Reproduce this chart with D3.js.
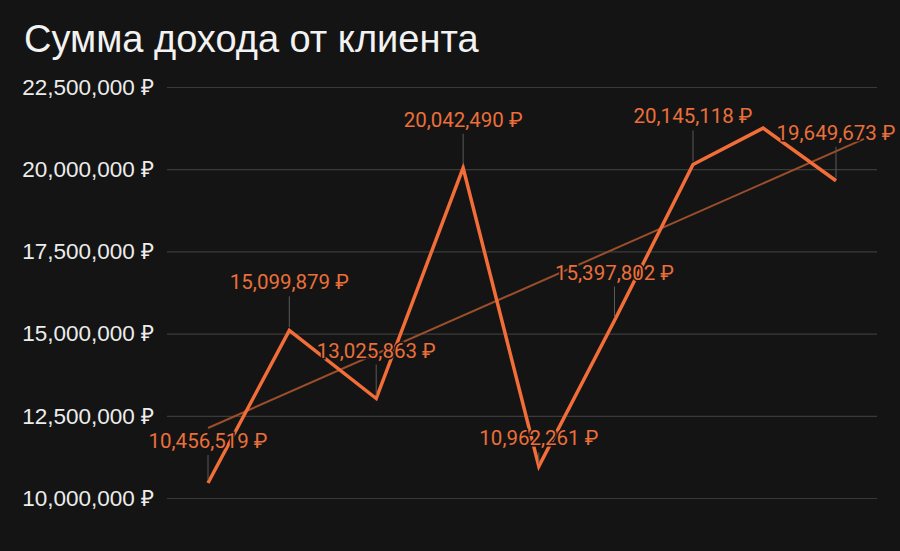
<!DOCTYPE html>
<html>
<head>
<meta charset="utf-8">
<script src="https://cdn.jsdelivr.net/npm/d3@7"></script>
<style>
  html, body { margin: 0; padding: 0; background: #141414; }
  svg { display: block; }
  text { font-family: Roboto, "Noto Sans", sans-serif; }
</style>
</head>
<body>
<div class="svg-container"></div>
<script>
// data
const dates = ['2023-01-05', '2023-02-03', '2023-03-06', '2023-04-06', '2023-05-03',
  '2023-05-30', '2023-06-27', '2023-07-22', '2023-08-17'];
const income = [10456519, 15099879, 13025863, 20042490, 10962261,
  15397802, 20145118, 21250000, 19649673];
const hiddenLabels = [7];
const trendDates = ['2023-01-05', '2023-08-27'];
const trendValues = [12130000, 20920000];
const yTicks = [10000000, 12500000, 15000000, 17500000, 20000000, 22500000];

let incomeChart = {
  mainSelect: '.svg-container',
  width: 900,
  height: 551,
  title: 'Сумма дохода от клиента',
  colors: {
    bg: '#141414',
    grid: '#3a3a3a',
    tick: '#ececec',
    line: '#f26d38',
    label: '#ea6f3b',
    trend: '#9b4e2b',
    leader: '#5a5a5a'
  },
  plot: { left: 167, right: 877, x0: 208, x1: 836, top: 87, bottom: 498 },
  labelLift: 41,
  labelLiftOverride: { 0: 35, 4: 21 },

  makeChart(){
    const c = incomeChart.colors, p = incomeChart.plot;
    const parse = d3.utcParse('%Y-%m-%d');
    const fmt = d3.format(',');

    d3.select(incomeChart.mainSelect).selectAll('svg').remove();
    const svg = d3.select(incomeChart.mainSelect).append('svg')
      .attr('width', incomeChart.width)
      .attr('height', incomeChart.height);

    svg.append('rect')
      .attr('width', incomeChart.width)
      .attr('height', incomeChart.height)
      .attr('fill', c.bg);

    const rows = dates.map((d, i) => ({ date: parse(d), value: income[i], i: i }));

    const x = d3.scaleUtc()
      .domain(d3.extent(rows, d => d.date))
      .range([p.x0, p.x1]);
    const y = d3.scaleLinear()
      .domain([d3.min(yTicks), d3.max(yTicks)])
      .range([p.bottom, p.top]);

    svg.append('text')
      .attr('x', 24)
      .attr('y', 52)
      .attr('fill', '#f2f2f2')
      .style('font-family', '"Liberation Sans", Arial, sans-serif')
      .style('font-size', '38px')
      .text(incomeChart.title);

    // y axis: gridlines + labels
    const yAxis = d3.axisLeft(y)
      .tickValues(yTicks)
      .tickSize(-(p.right - p.left))
      .tickPadding(13)
      .tickFormat(v => fmt(v) + ' ₽');
    const ag = svg.append('g')
      .attr('transform', 'translate(' + p.left + ',0)')
      .call(yAxis);
    ag.select('.domain').remove();
    ag.selectAll('.tick line').attr('stroke', c.grid).attr('stroke-width', 1.2);
    ag.selectAll('.tick text')
      .attr('fill', c.tick)
      .style('font-size', '22.5px')
      .style('font-family', '"Liberation Sans", Arial, sans-serif');

    // trend line
    const trend = trendDates.map((d, i) => ({ date: parse(d), value: trendValues[i] }));
    svg.append('path')
      .datum(trend)
      .attr('fill', 'none')
      .attr('stroke', c.trend)
      .attr('stroke-width', 2)
      .attr('d', d3.line().x(d => x(d.date)).y(d => y(d.value)));

    // main line
    svg.append('path')
      .datum(rows)
      .attr('fill', 'none')
      .attr('stroke', c.line)
      .attr('stroke-width', 3.5)
      .attr('stroke-linejoin', 'miter')
      .attr('d', d3.line().x(d => x(d.date)).y(d => y(d.value)));

    // value labels with leader lines
    const shown = rows.filter(d => hiddenLabels.indexOf(d.i) < 0);
    const lift = d => incomeChart.labelLiftOverride[d.i] || incomeChart.labelLift;

    svg.append('g').selectAll('line')
      .data(shown)
      .join('line')
      .attr('x1', d => x(d.date))
      .attr('x2', d => x(d.date))
      .attr('y1', d => y(d.value) - lift(d) + 7)
      .attr('y2', d => y(d.value) - 3)
      .attr('stroke', c.leader)
      .attr('stroke-width', 1);

    svg.append('g').selectAll('text')
      .data(shown)
      .join('text')
      .attr('x', d => x(d.date))
      .attr('y', d => y(d.value) - lift(d))
      .attr('text-anchor', 'middle')
      .attr('fill', c.label)
      .attr('stroke', c.bg)
      .attr('stroke-width', 3)
      .attr('paint-order', 'stroke')
      .style('font-size', '20.5px')
      .text(d => fmt(d.value) + ' ₽');
  }
};

document.addEventListener('DOMContentLoaded', function(event) {
  incomeChart.makeChart();
});
</script>
</body>
</html>
